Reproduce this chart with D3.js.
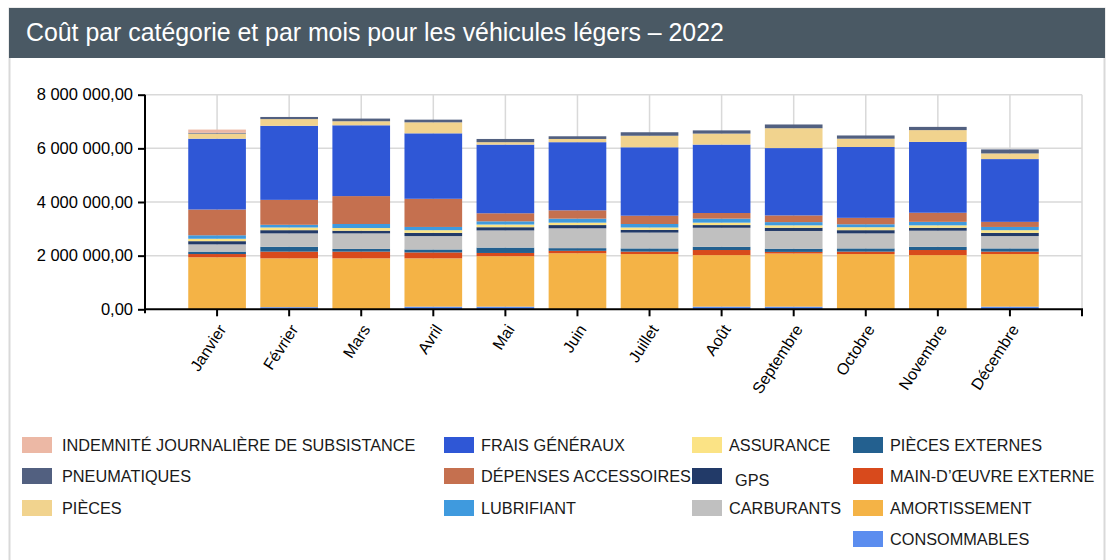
<!DOCTYPE html>
<html>
<head>
<meta charset="utf-8">
<script src="https://cdn.jsdelivr.net/npm/d3@7"></script>
<style>
  body { margin: 0; background: #ffffff; }
  svg { display: block; font-family: "Liberation Sans", Arial, sans-serif; }
</style>
</head>
<body>
<div id="chart"></div>
<script>
"use strict"

/* Data: months and one array per cost category */
let months = ["Janvier", "Février", "Mars", "Avril", "Mai", "Juin",
              "Juillet", "Août", "Septembre", "Octobre", "Novembre", "Décembre"];

let consommables    = [0, 80000, 0, 100000, 100000, 0, 0, 100000, 100000, 0, 0, 100000];
let amortissement   = [1940000, 1820000, 1900000, 1800000, 1880000, 2090000, 2060000, 1920000, 1980000, 2060000, 2020000, 1960000];
let mainOeuvre      = [120000, 250000, 250000, 220000, 120000, 90000, 90000, 190000, 60000, 90000, 190000, 90000];
let piecesExternes  = [90000, 180000, 100000, 110000, 200000, 100000, 120000, 120000, 120000, 120000, 120000, 120000];
let carburants      = [270000, 500000, 580000, 500000, 640000, 740000, 590000, 710000, 660000, 560000, 600000, 460000];
let gps             = [120000, 120000, 100000, 120000, 120000, 120000, 100000, 100000, 120000, 120000, 110000, 120000];
let assurance       = [90000, 100000, 100000, 100000, 100000, 90000, 90000, 90000, 90000, 110000, 90000, 100000];
let lubrifiant      = [130000, 100000, 150000, 120000, 120000, 150000, 130000, 150000, 120000, 110000, 130000, 120000];
let depenses        = [960000, 930000, 1040000, 1050000, 300000, 310000, 310000, 210000, 250000, 240000, 340000, 190000];
let fraisGeneraux   = [2640000, 2760000, 2640000, 2440000, 2560000, 2540000, 2550000, 2550000, 2510000, 2640000, 2640000, 2340000];
let pieces          = [190000, 250000, 150000, 410000, 90000, 120000, 430000, 410000, 740000, 310000, 440000, 210000];
let pneumatiques    = [30000, 80000, 100000, 100000, 120000, 100000, 130000, 120000, 140000, 120000, 120000, 150000];
let indemnite       = [120000, 0, 0, 0, 0, 0, 0, 0, 0, 0, 0, 0];

// Stack order, bottom to top
let categoryNames = ["CONSOMMABLES", "AMORTISSEMENT", "MAIN-D’ŒUVRE EXTERNE", "PIÈCES EXTERNES",
                     "CARBURANTS", "GPS", "ASSURANCE", "LUBRIFIANT", "DÉPENSES ACCESSOIRES",
                     "FRAIS GÉNÉRAUX", "PIÈCES", "PNEUMATIQUES", "INDEMNITÉ JOURNALIÈRE DE SUBSISTANCE"];
let categoryValues = [consommables, amortissement, mainOeuvre, piecesExternes,
                      carburants, gps, assurance, lubrifiant, depenses,
                      fraisGeneraux, pieces, pneumatiques, indemnite];
let categoryColors = ["#5b8def", "#f4b346", "#d84a1c", "#23608f",
                      "#c0c0c0", "#223a68", "#fbe385", "#3f9ade", "#c5704f",
                      "#2f57d6", "#f1d38e", "#526080", "#ecb8a5"];

let yTicks = [0, 2000000, 4000000, 6000000, 8000000];
let chartTitle = "Coût par catégorie et par mois pour les véhicules légers – 2022";

/* Drawing configuration */
let svgWidth = 1107;
let svgHeight = 560;
let plot = { left: 145, right: 1082, top: 94.7, bottom: 309.3 };

let svg = d3.select("#chart")
    .append("svg")
    .attr("width", svgWidth)
    .attr("height", svgHeight);

// card + title band
svg.append("rect")
    .attr("x", 9.5).attr("y", 8.5)
    .attr("width", 1095).attr("height", 600)
    .attr("fill", "#ffffff")
    .attr("stroke", "#d9d9d9")
    .attr("stroke-width", 2);

svg.append("rect")
    .attr("x", 9).attr("y", 8)
    .attr("width", 1096).attr("height", 50)
    .attr("fill", "#4a5964");

let title = svg.append("text")
    .attr("x", 26)
    .attr("y", 41)
    .attr("fill", "#ffffff")
    .style("font-size", "20px")
    .text(chartTitle);
// fit title width to the reference
let tw = title.node().getComputedTextLength();
title.style("font-size", (20 * 698 / tw) + "px");

/* Table for d3.stack */
let table = months.map(function (m, i) {
    let row = { month: m };
    categoryNames.forEach(function (c, k) { row[c] = categoryValues[k][i]; });
    return row;
});
let stacked = d3.stack().keys(categoryNames)(table);

/* Scales */
let step = (plot.right - plot.left) / 13;
let xScale = d3.scaleBand()
    .domain(months)
    .range([plot.left + step / 2, plot.right - step / 2])
    .paddingInner(0.2)
    .paddingOuter(0.1);

let yScale = d3.scaleLinear()
    .domain([0, 8000000])
    .range([plot.bottom, plot.top]);

let colorScale = d3.scaleOrdinal()
    .domain(categoryNames)
    .range(categoryColors);

let frLocale = d3.formatLocale({ decimal: ",", thousands: "\u00a0", grouping: [3], currency: ["", " €"] });
let fmt = frLocale.format(",.2f");

/* Gridlines */
let grid = svg.append("g")
    .attr("stroke", "#d9d9d9")
    .attr("stroke-width", 1.5);

grid.selectAll("line.h")
    .data(yTicks.slice(1))
    .join("line")
    .attr("class", "h")
    .attr("x1", plot.left).attr("x2", plot.right)
    .attr("y1", function (d) { return yScale(d); })
    .attr("y2", function (d) { return yScale(d); });

grid.selectAll("line.v")
    .data(months)
    .join("line")
    .attr("class", "v")
    .attr("x1", function (d) { return xScale(d) + xScale.bandwidth() / 2; })
    .attr("x2", function (d) { return xScale(d) + xScale.bandwidth() / 2; })
    .attr("y1", plot.top).attr("y2", plot.bottom);

grid.append("line")
    .attr("x1", plot.right).attr("x2", plot.right)
    .attr("y1", plot.top).attr("y2", plot.bottom);

/* Bars */
svg.append("g")
    .selectAll("g")
    .data(stacked)
    .join("g")
    .attr("fill", function (d) { return colorScale(d.key); })
    .selectAll("rect")
    .data(function (d) { return d; })
    .join("rect")
    .attr("x", function (d) { return xScale(d.data.month); })
    .attr("width", xScale.bandwidth())
    .attr("y", function (d) { return yScale(d[1]); })
    .attr("height", function (d) { return yScale(d[0]) - yScale(d[1]); });

/* Y axis */
let yAxis = d3.axisLeft(yScale)
    .tickValues(yTicks)
    .tickFormat(fmt)
    .tickSize(7)
    .tickPadding(5)
    .tickSizeOuter(0);

let yAxisG = svg.append("g")
    .attr("transform", "translate(" + plot.left + ",0)")
    .call(yAxis);
yAxisG.select(".domain").remove();
yAxisG.selectAll(".tick line").attr("stroke", "#000").attr("stroke-width", 2);
yAxisG.selectAll(".tick text")
    .attr("fill", "#000")
    .style("font-size", "16.5px")
    .style("font-family", "\"Liberation Sans\", Arial, sans-serif");

svg.append("line")
    .attr("x1", plot.left).attr("x2", plot.left)
    .attr("y1", plot.top).attr("y2", plot.bottom + 4)
    .attr("stroke", "#000").attr("stroke-width", 2);

/* X axis */
let xAxis = d3.axisBottom(xScale)
    .tickSize(7)
    .tickSizeOuter(0);

let xAxisG = svg.append("g")
    .attr("transform", "translate(0," + plot.bottom + ")")
    .call(xAxis);
xAxisG.select(".domain").remove();
xAxisG.selectAll(".tick line").attr("stroke", "#000").attr("stroke-width", 2);
xAxisG.selectAll(".tick text")
    .attr("fill", "#000")
    .attr("text-anchor", "end")
    .attr("x", 0).attr("y", 0).attr("dy", "0.35em")
    .attr("transform", "translate(5,17) rotate(-57)")
    .style("font-size", "16px")
    .style("font-family", "\"Liberation Sans\", Arial, sans-serif");

svg.append("line")
    .attr("x1", plot.left - 1).attr("x2", plot.right + 1)
    .attr("y1", plot.bottom).attr("y2", plot.bottom)
    .attr("stroke", "#000").attr("stroke-width", 2);
svg.append("line")
    .attr("x1", plot.right).attr("x2", plot.right)
    .attr("y1", plot.bottom).attr("y2", plot.bottom + 7)
    .attr("stroke", "#000").attr("stroke-width", 2);

/* Legend: reverse stack order, column by column */
let legendOrder = categoryNames.slice().reverse();
let legendColX = [22, 444, 692, 853];
let legendColSize = [3, 3, 3, 4];
let legendRowY = [445, 476, 508, 539];

let legendItems = [];
let idx = 0;
legendColSize.forEach(function (n, col) {
    for (let r = 0; r < n; r++) {
        legendItems.push({ name: legendOrder[idx], col: col, row: r });
        idx++;
    }
});

let legend = svg.append("g");
let item = legend.selectAll("g")
    .data(legendItems)
    .join("g")
    .attr("transform", function (d) {
        return "translate(" + legendColX[d.col] + "," + legendRowY[d.row] + ")";
    });

item.append("rect")
    .attr("x", 0).attr("y", -8)
    .attr("width", 30).attr("height", 16)
    .attr("fill", function (d) { return colorScale(d.name); });

item.append("text")
    .attr("x", function (d) { return d.col === 0 ? 40 : (d.name === "GPS" ? 43 : 37); })
    .attr("y", function (d) { return d.name === "GPS" ? 4 : 0; })
    .attr("dy", "0.35em")
    .attr("fill", "#1a1a1a")
    .style("font-size", "16.3px")
    .text(function (d) { return d.name; });
</script>
</body>
</html>
